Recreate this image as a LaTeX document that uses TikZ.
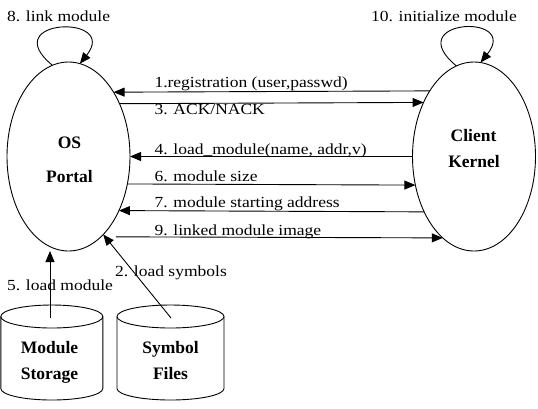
\documentclass[tikz,border=0pt]{standalone}
\usepackage{fontspec}
\setmainfont{Liberation Serif}
\usepackage{graphicx}
\usetikzlibrary{shapes.geometric,arrows.meta}
\newcommand\vsq[1]{\scalebox{1}[0.88]{#1}}
\begin{document}
\begin{tikzpicture}[x=1bp,y=-1bp,
  every node/.style={font=\fontsize{17.5bp}{21bp}\selectfont, inner sep=0pt, outer sep=0pt},
  lbl/.style={anchor=base west},
  bold/.style={font=\fontsize{17.5bp}{21bp}\selectfont\bfseries, anchor=base},
  proc/.style={ellipse, draw, line width=0.9bp, minimum width=123bp, minimum height=189bp},
  msg/.style={line width=0.9bp, -{Triangle[length=11bp,width=9bp]}},
  store/.style={line width=0.9bp},
]
\useasboundingbox (0,0) rectangle (538,408);

% processes
\node[proc] (os) at (68.5,156.5) {};
\node[proc] (ck) at (474,156.5) {};
\node[bold] (ost1) at (69.5,148) {OS};
\node[bold] (ost2) at (69.5,182) {Portal};
\node[bold] (ckt1) at (473.5,141.7) {Client};
\node[bold] (ckt2) at (474,167.7) {Kernel};

% storages
\draw[store] (51.8,316.5) ellipse [x radius=51bp, y radius=11.5bp];
\draw[store] (0.8,316.5) -- (0.8,388.5) arc[start angle=180, end angle=360, x radius=51bp, y radius=11.5bp] -- (102.8,316.5);
\draw[store] (170.5,316.5) ellipse [x radius=53.5bp, y radius=11.5bp];
\draw[store] (117,316.5) -- (117,388.5) arc[start angle=180, end angle=360, x radius=53.5bp, y radius=11.5bp] -- (224,316.5);
\node[bold] (mst1) at (49.5,353) {Module};
\node[bold] (mst2) at (49.5,379) {Storage};
\node[bold] (sft1) at (170.5,353) {Symbol};
\node[bold] (sft2) at (170.5,379) {Files};
\coordinate (ms) at (50,318);
\coordinate (sf) at (171,318);

% self loops
\draw[msg] (os.100) .. controls +(-57,-47) and +(40,-50) .. (os.83);
\draw[msg] (ck.101) .. controls +(-57,-47) and +(40,-50) .. (ck.86);
\node[lbl] (t8) at (7,21) {\vsq{8. link module}};
\node[lbl] (t10) at (371,21) {\vsq{10. initialize module}};

% messages
\draw[msg] (ck.124.1) -- (os.55.9);
\draw[msg] (os.46.5) -- (ck.133.5);
\draw[msg] (ck.180) -- (os.0);
\draw[msg] (os.-25.1) -- (ck.-154.9);
\draw[msg] (ck.-132.6) -- (os.-47.4);
\draw[msg, shorten <=15bp] (os.-68.2) -- (ck.-111.8);
\node[lbl] (t1) at (154.5,87) {\vsq{1.registration (user,passwd)}};
\node[lbl] (t3) at (154.5,114) {\vsq{3. ACK/NACK}};
\node[lbl] (t4) at (154.5,154.3) {\vsq{4. load\_module(name, addr,v)}};
\node[lbl] (t6) at (154.5,181) {\vsq{6. module size}};
\node[lbl] (t7) at (154.5,207.7) {\vsq{7. module starting address}};
\node[lbl] (t9) at (154.5,235) {\vsq{9. linked module image}};

% loading
\draw[msg] (ms) -- (ms |- os.south);
\draw[msg] (sf) -- (os.-66.5);
\node[lbl] (t5) at (7,290) {\vsq{5. load module}};
\node[lbl] (t2) at (115,276) {\vsq{2. load symbols}};
\end{tikzpicture}
\end{document}
